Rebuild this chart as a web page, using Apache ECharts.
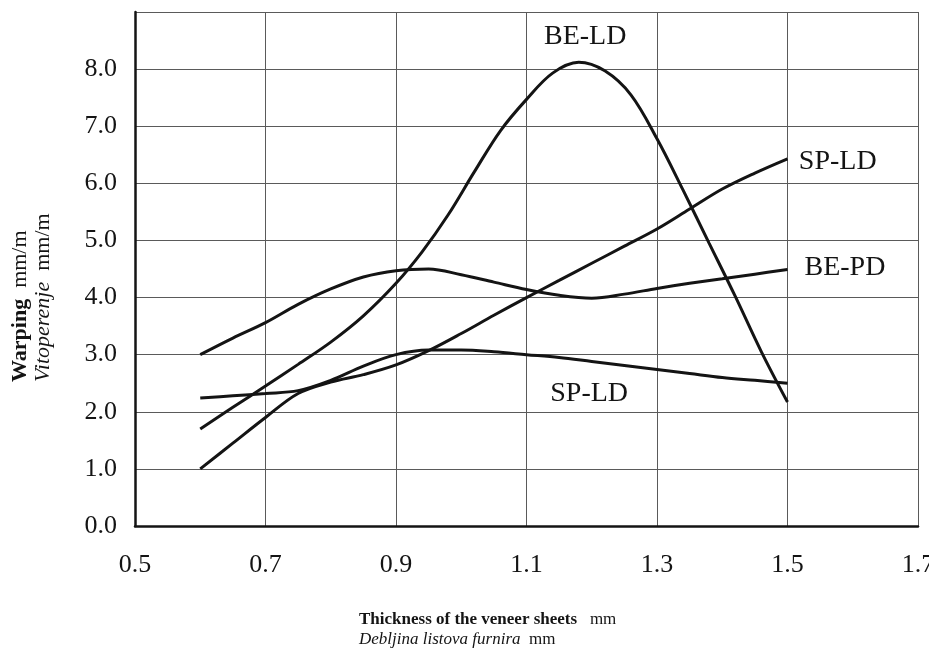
<!DOCTYPE html>
<html>
<head>
<meta charset="utf-8">
<script src="https://cdn.jsdelivr.net/npm/echarts@6/dist/echarts.min.js"></script>
<style>
  html, body { margin: 0; padding: 0; background: #fff; }
  #chart { width: 929px; height: 664px; }
</style>
</head>
<body>
<div id="chart"></div>
<script>
// Veneer sheet thickness (mm) against warping (mm/m)
const xTicks = [0.5, 0.7, 0.9, 1.1, 1.3, 1.5, 1.7];
const yTicks = [0, 1, 2, 3, 4, 5, 6, 7, 8];

// Each series: [thickness, warping]
const beLD = [
  [0.6, 1.7], [0.65, 2.08], [0.7, 2.45], [0.75, 2.83], [0.8, 3.22],
  [0.85, 3.68], [0.9, 4.25], [0.94, 4.8], [0.98, 5.45], [1.02, 6.2],
  [1.06, 6.92], [1.1, 7.47], [1.14, 7.93], [1.18, 8.12], [1.22, 7.97],
  [1.26, 7.55], [1.3, 6.78], [1.34, 5.88], [1.38, 4.95], [1.42, 4.02],
  [1.46, 3.05], [1.5, 2.17]
];
const spLDUpper = [
  [0.6, 1.0], [0.65, 1.45], [0.7, 1.9], [0.75, 2.32], [0.8, 2.52],
  [0.85, 2.65], [0.9, 2.82], [0.95, 3.07], [1.0, 3.37], [1.05, 3.69],
  [1.1, 4.0], [1.15, 4.3], [1.2, 4.6], [1.25, 4.9], [1.3, 5.2],
  [1.35, 5.55], [1.4, 5.9], [1.45, 6.18], [1.5, 6.43]
];
const bePD = [
  [0.6, 3.0], [0.65, 3.29], [0.7, 3.56], [0.75, 3.88], [0.8, 4.15],
  [0.85, 4.36], [0.9, 4.47], [0.95, 4.5], [1.0, 4.4], [1.05, 4.27],
  [1.1, 4.14], [1.15, 4.04], [1.2, 3.99], [1.25, 4.06], [1.3, 4.16],
  [1.35, 4.25], [1.4, 4.33], [1.45, 4.41], [1.5, 4.49]
];
const spLDLower = [
  [0.6, 2.24], [0.65, 2.28], [0.7, 2.32], [0.75, 2.37], [0.8, 2.55],
  [0.85, 2.8], [0.9, 3.0], [0.95, 3.08], [1.0, 3.08], [1.05, 3.05],
  [1.1, 3.0], [1.15, 2.95], [1.2, 2.88], [1.25, 2.81], [1.3, 2.74],
  [1.35, 2.67], [1.4, 2.6], [1.45, 2.55], [1.5, 2.5]
];

// Curve names and where their captions sit (data coordinates)
const curveLabels = [
  { text: 'BE-LD', at: [1.19, 8.57] },
  { text: 'SP-LD', at: [1.577, 6.38] },
  { text: 'BE-PD', at: [1.588, 4.53] },
  { text: 'SP-LD', at: [1.196, 2.32] }
];

const serif = '"Liberation Serif", "Times New Roman", serif';
const ink = '#141414';
const gridColor = '#5a5a5a';

function curve(name, data) {
  return {
    name: name,
    type: 'line',
    data: data,
    smooth: 0.35,
    symbol: 'none',
    lineStyle: { color: ink, width: 3 },
    z: 3
  };
}

const captionSeries = {
  name: 'captions',
  type: 'scatter',
  symbolSize: 0,
  silent: true,
  data: curveLabels.map(c => ({ value: c.at, caption: c.text })),
  itemStyle: { color: ink, opacity: 1 },
  label: {
    show: true,
    position: 'inside',
    formatter: p => p.data.caption,
    fontFamily: serif,
    fontSize: 28,
    color: ink,
    opacity: 1,
    textBorderWidth: 0
  },
  z: 4
};

const chart = echarts.init(document.getElementById('chart'), null, { renderer: 'canvas' });

chart.setOption({
  backgroundColor: '#ffffff',
  animation: false,
  grid: {
    left: 135, right: 11, top: 12, bottom: 138,
    containLabel: false,
    outerBoundsMode: 'none'
  },
  xAxis: {
    type: 'value',
    min: xTicks[0],
    max: xTicks[xTicks.length - 1],
    axisLine: { show: true, onZero: false, lineStyle: { color: ink, width: 2.5 } },
    axisTick: { show: false, customValues: xTicks },
    axisLabel: {
      customValues: xTicks,
      formatter: v => v.toFixed(1),
      fontFamily: serif,
      fontSize: 26,
      color: ink,
      margin: 26,
      hideOverlap: false
    },
    splitLine: { show: true, lineStyle: { color: gridColor, width: 1 } }
  },
  yAxis: {
    type: 'value',
    min: 0,
    max: 9,
    interval: 1,
    axisLine: { show: true, onZero: false, lineStyle: { color: ink, width: 2.5 } },
    axisTick: { show: false },
    axisLabel: {
      formatter: v => (yTicks.indexOf(v) >= 0 ? v.toFixed(1) : ''),
      fontFamily: serif,
      fontSize: 26,
      color: ink,
      margin: 18
    },
    splitLine: { show: true, lineStyle: { color: gridColor, width: 1 } }
  },
  graphic: [
    {
      type: 'text',
      x: 32,
      y: 382,
      rotation: Math.PI / 2,
      style: {
        text: '{b|Warping}  mm/m\n{i|Vitoperenje}  mm/m',
        align: 'left',
        verticalAlign: 'middle',
        fontFamily: serif,
        fontSize: 22,
        lineHeight: 23,
        fill: ink,
        rich: {
          b: { fontFamily: serif, fontSize: 22, fontWeight: 'bold', fill: ink },
          i: { fontFamily: serif, fontSize: 22, fontStyle: 'italic', fill: ink }
        }
      }
    },
    {
      type: 'text',
      x: 359,
      y: 630,
      style: {
        text: '{b|Thickness of the veneer sheets}   mm\n{i|Debljina listova furnira}  mm',
        align: 'left',
        verticalAlign: 'middle',
        fontFamily: serif,
        fontSize: 17,
        lineHeight: 20,
        fill: ink,
        rich: {
          b: { fontFamily: serif, fontSize: 17, fontWeight: 'bold', fill: ink },
          i: { fontFamily: serif, fontSize: 17, fontStyle: 'italic', fill: ink }
        }
      }
    }
  ],
  series: [
    curve('BE-LD', beLD),
    curve('SP-LD', spLDUpper),
    curve('BE-PD', bePD),
    curve('SP-LD (lower)', spLDLower),
    captionSeries
  ]
});
</script>
</body>
</html>
